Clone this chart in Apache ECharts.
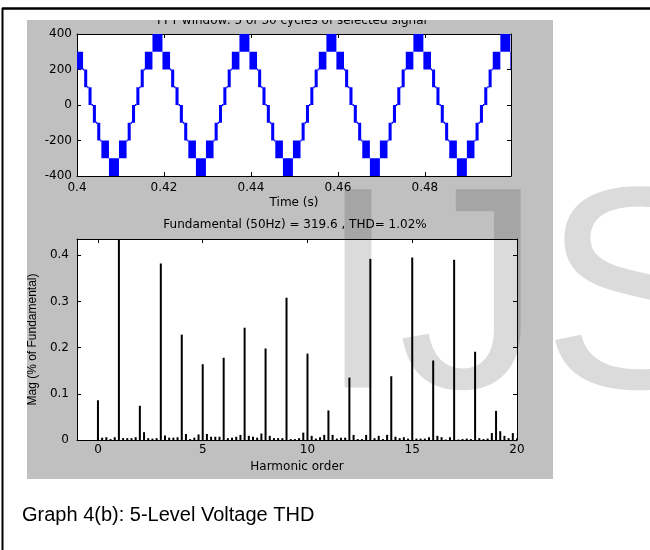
<!DOCTYPE html>
<html>
<head>
<meta charset="utf-8">
<script src="https://cdn.jsdelivr.net/npm/echarts@6/dist/echarts.min.js"></script>
<style>
  html, body { margin: 0; padding: 0; background: #fff; }
  #main { width: 650px; height: 550px; }
</style>
</head>
<body>
<div id="main"></div>
<script>
// 上图刻度
const timeTicks = [0.4, 0.42, 0.44, 0.46, 0.48];
const voltTicks = [-400, -200, 0, 200, 400];
// 各周期正峰值时刻 (s)
const peakTimes = [0.3985, 0.4185, 0.4385, 0.4585, 0.4785, 0.4985];
// 一个周期内的电平切换带：[起始ms, 结束ms, 下电平, 上电平]，相对峰值时刻
const cycleBands = [
    [-1.15, 1.15, 300, 400],
    [1.15, 2.9, 200, 300],
    [3.15, 3.85, 100, 200],
    [4.15, 4.85, 0, 100],
    [5.15, 5.85, -100, 0],
    [6.15, 6.85, -200, -100],
    [7.1, 8.85, -300, -200],
    [8.85, 11.15, -400, -300],
    [11.15, 12.9, -300, -200],
    [13.15, 13.85, -200, -100],
    [14.15, 14.85, -100, 0],
    [15.15, 15.85, 0, 100],
    [16.15, 16.85, 100, 200],
    [17.1, 18.85, 200, 300]
];

// 下图刻度
const harmonicTicks = [0, 5, 10, 15, 20];
const magTicks = [0, 0.1, 0.2, 0.3, 0.4];
// 谐波幅值(% of Fundamental)，每行一个整数次谐波，行内步长 0.2
const harmonicMag = [
    [0.086, 0.005, 0.006, 0.002, 0.006],
    [100, 0.004, 0.004, 0.004, 0.006],
    [0.074, 0.017, 0.004, 0.003, 0.004],
    [0.382, 0.010, 0.005, 0.005, 0.006],
    [0.228, 0.013, 0.002, 0.005, 0.012],
    [0.164, 0.013, 0.007, 0.007, 0.007],
    [0.178, 0.004, 0.005, 0.007, 0.011],
    [0.243, 0.009, 0.007, 0.005, 0.014],
    [0.198, 0.009, 0.004, 0.004, 0.004],
    [0.308, 0.002, 0.002, 0.004, 0.016],
    [0.187, 0.009, 0.003, 0.006, 0.011],
    [0.064, 0.011, 0.003, 0.005, 0.005],
    [0.135, 0.011, 0.002, 0.002, 0.011],
    [0.392, 0.004, 0.009, 0.002, 0.011],
    [0.138, 0.007, 0.004, 0.006, 0.003],
    [0.395, 0.003, 0.003, 0.003, 0.006],
    [0.172, 0.009, 0.006, 0.001, 0.006],
    [0.390, 0.001, 0.002, 0.003, 0.002],
    [0.191, 0.004, 0.002, 0.003, 0.015],
    [0.063, 0.019, 0.009, 0.004, 0.015],
    [0.004]
];

// 组装波形切换带
const bands = [];
peakTimes.forEach(p => {
    cycleBands.forEach(b => {
        bands.push([p + b[0] / 1000, p + b[1] / 1000, b[2], b[3]]);
    });
});
// 每个切换带附带到下一个切换带的水平段
const waveData = bands.map((b, i) => {
    const next = bands[i + 1];
    if (!next) return [b[0], b[1], b[2], b[3], b[1], b[2]];
    const level = (b[2] === next[2] || b[2] === next[3]) ? b[2] : b[3];
    return [b[0], b[1], b[2], b[3], next[0], level];
});

const barData = [];
harmonicMag.forEach((row, h) => {
    row.forEach((v, k) => barData.push([h + k * 0.2, v]));
});

function renderWave(params, api) {
    const cs = params.coordSys;
    const box = { x: cs.x, y: cs.y, width: cs.width, height: cs.height };
    const p0 = api.coord([api.value(0), api.value(3)]);
    const p1 = api.coord([api.value(1), api.value(2)]);
    const children = [];
    const rect = echarts.graphic.clipRectByRect(
        { x: p0[0], y: p0[1], width: p1[0] - p0[0], height: p1[1] - p0[1] }, box);
    if (rect) {
        children.push({ type: 'rect', shape: rect, style: { fill: '#0000ff' } });
    }
    if (api.value(4) > api.value(1)) {
        const a = api.coord([api.value(1), api.value(5)]);
        const b = api.coord([api.value(4), api.value(5)]);
        const x1 = Math.max(a[0], cs.x), x2 = Math.min(b[0], cs.x + cs.width);
        if (x2 > x1) {
            children.push({
                type: 'line',
                shape: { x1: x1, y1: a[1], x2: x2, y2: b[1] },
                style: { stroke: '#0000ff', lineWidth: 2 }
            });
        }
    }
    return { type: 'group', children: children };
}

const tickFont = { color: '#000', fontFamily: 'DejaVu Sans', fontSize: 12 };
const lineBox = { show: true, onZero: false, lineStyle: { color: '#000', width: 1 } };
function ticks(values) {
    return { show: true, inside: true, length: 4, customValues: values, lineStyle: { color: '#000' } };
}

const chart = echarts.init(document.getElementById('main'), null, { renderer: 'canvas' });
chart.setOption({
    animation: false,
    backgroundColor: '#fff',
    grid: [
        { left: 77, top: 34, width: 434, height: 142, show: true, backgroundColor: '#fff', borderWidth: 0 },
        { left: 77, top: 239, width: 440, height: 201, show: true, backgroundColor: '#fff', borderWidth: 0 }
    ],
    xAxis: [
        {
            gridIndex: 0, type: 'value', min: 0.4, max: 0.4998, position: 'bottom',
            axisLine: lineBox, axisTick: ticks(timeTicks), splitLine: { show: false },
            axisLabel: Object.assign({ customValues: timeTicks, margin: 6 }, tickFont),
            name: 'Time (s)', nameLocation: 'middle', nameGap: 21, nameTextStyle: tickFont
        },
        {
            gridIndex: 0, type: 'value', min: 0.4, max: 0.4998, position: 'top',
            axisLine: lineBox, axisTick: ticks(timeTicks), splitLine: { show: false },
            axisLabel: { show: false }
        },
        {
            gridIndex: 1, type: 'value', min: -1, max: 20, position: 'bottom',
            axisLine: lineBox, axisTick: ticks(harmonicTicks), splitLine: { show: false },
            axisLabel: Object.assign({ customValues: harmonicTicks, margin: 4 }, tickFont),
            name: 'Harmonic order', nameLocation: 'middle', nameGap: 21, nameTextStyle: tickFont
        },
        {
            gridIndex: 1, type: 'value', min: -1, max: 20, position: 'top',
            axisLine: lineBox, axisTick: ticks(harmonicTicks), splitLine: { show: false },
            axisLabel: { show: false }
        }
    ],
    yAxis: [
        {
            gridIndex: 0, type: 'value', min: -400, max: 400, position: 'left',
            axisLine: lineBox, axisTick: ticks(voltTicks), splitLine: { show: false },
            axisLabel: Object.assign({ customValues: voltTicks, margin: 5 }, tickFont)
        },
        {
            gridIndex: 0, type: 'value', min: -400, max: 400, position: 'right',
            axisLine: lineBox, axisTick: ticks(voltTicks), splitLine: { show: false },
            axisLabel: { show: false }
        },
        {
            gridIndex: 1, type: 'value', min: 0, max: 0.435, position: 'left',
            axisLine: lineBox, axisTick: ticks(magTicks), splitLine: { show: false },
            axisLabel: Object.assign({ customValues: magTicks, margin: 8 }, tickFont),
            name: 'Mag (% of Fundamental)', nameLocation: 'middle', nameGap: 37, nameRotate: 90,
            nameTextStyle: { color: '#000', fontFamily: 'Liberation Sans', fontSize: 12 }
        },
        {
            gridIndex: 1, type: 'value', min: 0, max: 0.435, position: 'right',
            axisLine: lineBox, axisTick: ticks(magTicks), splitLine: { show: false },
            axisLabel: { show: false }
        }
    ],
    series: [
        {
            type: 'custom', xAxisIndex: 0, yAxisIndex: 0,
            renderItem: renderWave, data: waveData,
            encode: { x: [0, 1, 4], y: [2, 3, 5] }, z: 3
        },
        {
            type: 'bar', xAxisIndex: 2, yAxisIndex: 2,
            data: barData, barWidth: 2, itemStyle: { color: '#000' }
        }
    ],
    graphic: [
        // 灰色背景面板
        { type: 'rect', z: -100, shape: { x: 27, y: 20, width: 526, height: 459 }, style: { fill: '#c0c0c0' } },
        // 上图标题（顶部被截掉）
        {
            type: 'text', z: 10, x: 292, y: 21,
            style: { text: 'FFT window: 5 of 30 cycles of selected signal', align: 'center', verticalAlign: 'middle',
                font: '12px "DejaVu Sans"', fill: '#000' }
        },
        { type: 'rect', z: 20, shape: { x: 20, y: 10, width: 540, height: 10 }, style: { fill: '#fff' } },
        // 下图标题
        {
            type: 'text', z: 10, x: 295, y: 225,
            style: { text: 'Fundamental (50Hz) = 319.6 , THD= 1.02%', align: 'center', verticalAlign: 'middle',
                font: '12px "DejaVu Sans"', fill: '#000' }
        },
        // 外框
        { type: 'line', z: 30, shape: { x1: 2, y1: 8.5, x2: 650, y2: 8.5 }, style: { stroke: '#000', lineWidth: 2.5 } },
        { type: 'line', z: 30, shape: { x1: 2.5, y1: 8, x2: 2.5, y2: 550 }, style: { stroke: '#000', lineWidth: 2 } },
        // 水印
        {
            type: 'text', z: 50, x: 318, y: 308,
            style: { text: 'IJS', align: 'left', verticalAlign: 'middle',
                font: '288px "Liberation Sans"', fill: 'rgba(0,0,0,0.14)' }
        },
        // 图注
        {
            type: 'text', z: 10, x: 22, y: 515,
            style: { text: 'Graph 4(b): 5-Level Voltage THD', align: 'left', verticalAlign: 'middle',
                font: '20px "Liberation Sans"', fill: '#000' }
        }
    ]
});
</script>
</body>
</html>
